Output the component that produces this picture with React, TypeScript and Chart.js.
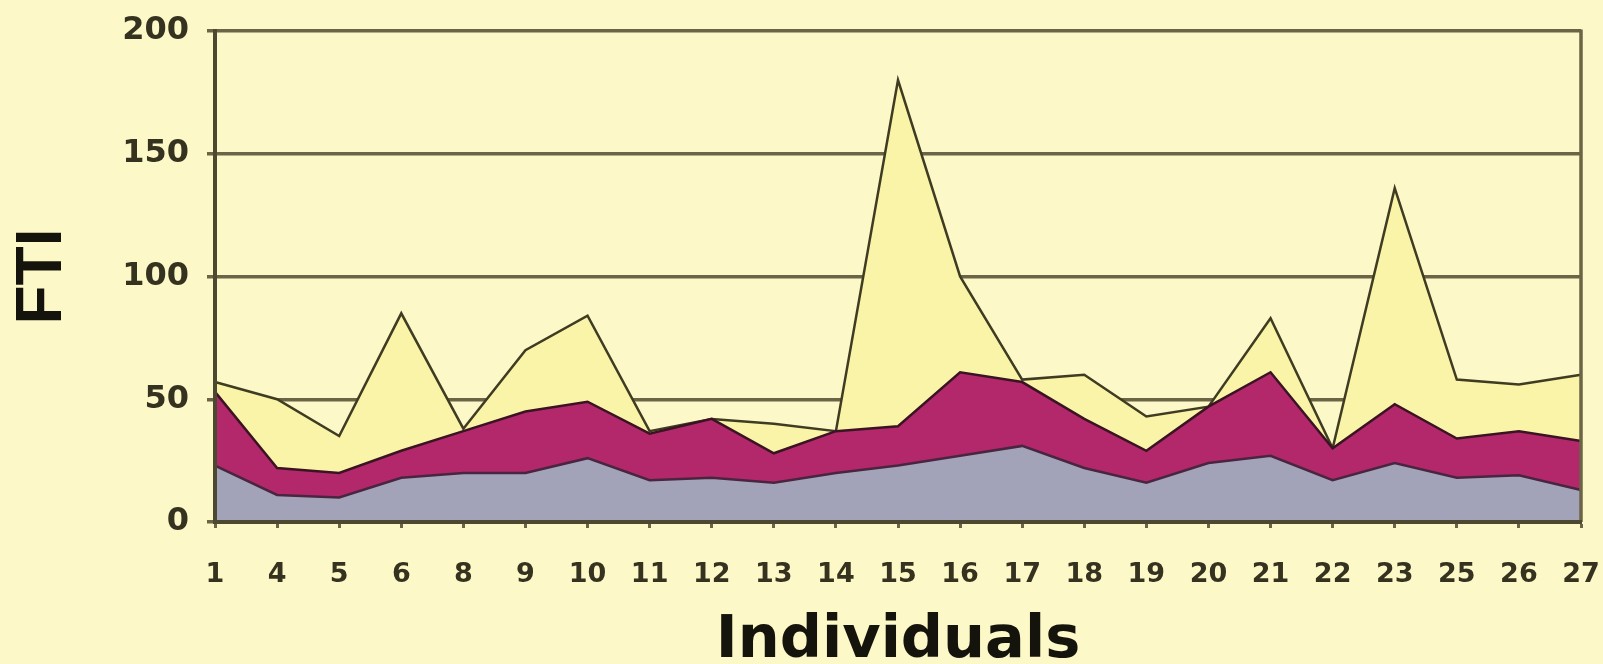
import React, { useEffect, useRef } from "react";
import { Chart, registerables } from "chart.js";

Chart.register(...registerables);

const individuals = ["1", "4", "5", "6", "8", "9", "10", "11", "12", "13", "14", "15", "16", "17", "18", "19", "20", "21", "22", "23", "25", "26", "27"];
const ftiTotal = [57, 50, 35, 85, 38, 70, 84, 37, 42, 40, 37, 180, 100, 58, 60, 43, 47, 83, 30, 136, 58, 56, 60];
const ftiMiddle = [53, 22, 20, 29, 37, 45, 49, 36, 42, 28, 37, 39, 61, 57, 42, 29, 47, 61, 30, 48, 34, 37, 33];
const ftiBase = [23, 11, 10, 18, 20, 20, 26, 17, 18, 16, 20, 23, 27, 31, 22, 16, 24, 27, 17, 24, 18, 19, 13];
const yMin = 0;
const yMax = 200;
const yStep = 50;

const BG = "#fdf8c8";
const GRID = "#6b6446";
const AXIS = "#4d4930";

const bgPlugin = {
  id: "bg",
  beforeDraw(chart: any) {
    const { ctx, width, height } = chart;
    ctx.save();
    ctx.fillStyle = BG;
    ctx.fillRect(0, 0, width, height);
    ctx.restore();
  },
};

const framePlugin = {
  id: "frame",
  afterDatasetsDraw(chart: any) {
    const { ctx, chartArea } = chart;
    ctx.save();
    ctx.strokeStyle = GRID;
    ctx.lineWidth = 3.5;
    ctx.beginPath();
    ctx.moveTo(chartArea.right, chartArea.top - 1.5);
    ctx.lineTo(chartArea.right, chartArea.bottom);
    ctx.stroke();
    ctx.restore();
  },
};

export default function App() {
  const ref = useRef<HTMLCanvasElement | null>(null);

  useEffect(() => {
    if (!ref.current) return;
    const chart = new Chart(ref.current, {
      type: "line",
      data: {
        labels: individuals,
        datasets: [
          {
            label: "base",
            data: ftiBase,
            order: 1,
            fill: "origin",
            backgroundColor: "#a2a3b8",
            borderColor: "#4a2540",
            borderWidth: 2.5,
            pointRadius: 0,
            tension: 0,
          },
          {
            label: "middle",
            data: ftiMiddle,
            order: 2,
            fill: "origin",
            backgroundColor: "#b3286b",
            borderColor: "#3b1424",
            borderWidth: 2.5,
            pointRadius: 0,
            tension: 0,
          },
          {
            label: "total",
            data: ftiTotal,
            order: 3,
            fill: "origin",
            backgroundColor: "#faf4a8",
            borderColor: "#3f3c22",
            borderWidth: 2.5,
            pointRadius: 0,
            tension: 0,
          },
        ],
      },
      options: {
        animation: false,
        responsive: false,
        maintainAspectRatio: false,
        layout: { padding: { top: 31, right: 22, left: 0, bottom: 0 } },
        plugins: {
          legend: { display: false },
          tooltip: { enabled: false },
        },
        scales: {
          x: {
            type: "category",
            offset: false,
            grid: {
              display: true,
              drawOnChartArea: false,
              drawTicks: true,
              tickLength: 6,
              tickColor: GRID,
              tickWidth: 3,
            },
            border: { display: true, color: AXIS, width: 4, z: 1 },
            ticks: {
              color: "#35321f",
              font: { family: "DejaVu Sans", weight: "bold", size: 27 },
              padding: 31,
              maxRotation: 0,
              autoSkip: false,
            },
            title: {
              display: true,
              text: "Individuals",
              color: "#15140c",
              font: { family: "DejaVu Sans", weight: "bold", size: 59, lineHeight: 0.72 },
              padding: { top: 0, bottom: 1 },
            },
            afterFit: (s: any) => {
              s.height = 142;
              s.paddingLeft = 0;
              s.paddingRight = 0;
            },
          },
          y: {
            min: yMin,
            max: yMax,
            ticks: {
              stepSize: yStep,
              color: "#35321f",
              font: { family: "DejaVu Sans", weight: "bold", size: 32 },
              padding: 18,
            },
            grid: {
              color: GRID,
              lineWidth: 3.5,
              drawTicks: true,
              tickLength: 8,
            },
            border: { display: true, color: AXIS, width: 4, z: 1 },
            title: {
              display: true,
              text: "FTI",
              color: "#15140c",
              font: { family: "Liberation Sans", weight: "bold", size: 64, lineHeight: 1 },
              padding: { top: 11, bottom: 0 },
            },
            afterFit: (s: any) => {
              s.width = 215;
              s.paddingTop = 0;
              s.paddingBottom = 0;
            },
          },
        },
      },
      plugins: [bgPlugin, framePlugin],
    });
    return () => chart.destroy();
  }, []);

  return (
    <div style={{ position: "fixed", left: 0, top: 0, width: 1603, height: 664, background: BG }}>
      <canvas ref={ref} width={1603} height={664} style={{ display: "block" }} />
    </div>
  );
}
